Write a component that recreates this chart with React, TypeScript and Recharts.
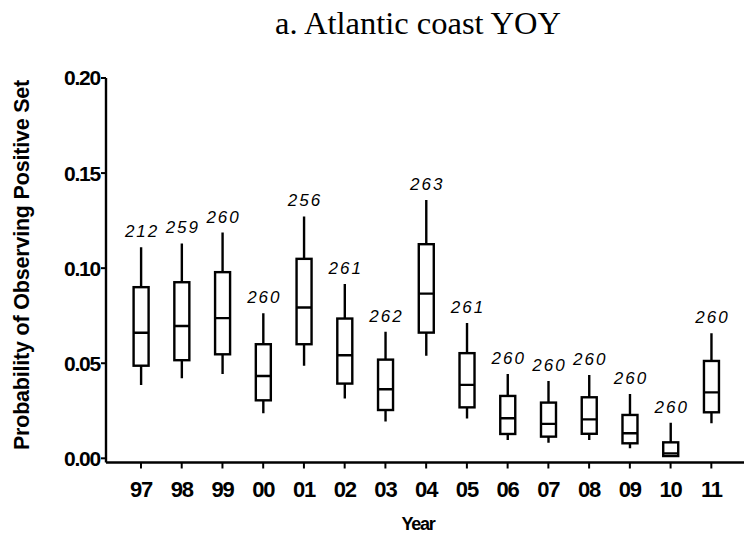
import { ComposedChart, Bar, XAxis, YAxis } from 'recharts'

const years = ['97', '98', '99', '00', '01', '02', '03', '04', '05', '06', '07', '08', '09', '10', '11']
const counts = [212, 259, 260, 260, 256, 261, 262, 263, 261, 260, 260, 260, 260, 260, 260]
const whiskerHigh = [0.111, 0.113, 0.1187, 0.0763, 0.1272, 0.0917, 0.0666, 0.1359, 0.0711, 0.0444, 0.0407, 0.0438, 0.0338, 0.0187, 0.0658]
const upperQ = [0.09, 0.0926, 0.0979, 0.06, 0.1049, 0.0735, 0.0519, 0.1126, 0.0553, 0.0328, 0.0293, 0.0321, 0.0228, 0.0084, 0.0512]
const medians = [0.066, 0.0696, 0.0737, 0.0433, 0.0793, 0.0542, 0.0363, 0.0866, 0.0386, 0.0211, 0.0181, 0.0205, 0.0132, 0.0026, 0.0347]
const lowerQ = [0.0487, 0.0516, 0.0547, 0.0305, 0.06, 0.0393, 0.0254, 0.0661, 0.0268, 0.0128, 0.0114, 0.0129, 0.0079, 0.0012, 0.0242]
const whiskerLow = [0.0386, 0.0421, 0.0444, 0.0237, 0.0487, 0.0314, 0.0193, 0.054, 0.0209, 0.0096, 0.0082, 0.0096, 0.0053, 0.0008, 0.0184]
const yTicks = [0, 0.05, 0.1, 0.15, 0.2]

const data = years.map((year, i) => ({
  year,
  n: counts[i],
  hi: whiskerHigh[i],
  q3: upperQ[i],
  med: medians[i],
  q1: lowerQ[i],
  lo: whiskerLow[i],
}))

const SANS = '"Liberation Sans", Arial, sans-serif'
const SW = 2.4

const BoxShape = (props: any) => {
  const { x, y, width, height, payload } = props
  const { hi, q3, med, q1, lo, n } = payload
  // pixels per unit, taken from the bar the library scaled for q1..q3
  const ppu = height / (q3 - q1)
  const cx = x + width / 2
  const yTop = y - (hi - q3) * ppu
  const yBot = y + height + (q1 - lo) * ppu
  const yMed = y + (q3 - med) * ppu
  return (
    <g>
      <line x1={cx} x2={cx} y1={yTop} y2={y} stroke="#000" strokeWidth={SW} />
      <line x1={cx} x2={cx} y1={y + height} y2={yBot} stroke="#000" strokeWidth={SW} />
      <rect x={x} y={y} width={width} height={height} fill="#fff" stroke="#000" strokeWidth={SW} />
      <line x1={x} x2={x + width} y1={yMed} y2={yMed} stroke="#000" strokeWidth={SW} />
      <text
        x={cx + 1}
        y={yTop - 10}
        textAnchor="middle"
        fontFamily={SANS}
        fontStyle="italic"
        fontSize={17}
        letterSpacing={2}
        fill="#000"
      >
        {n}
      </text>
    </g>
  )
}

export default function App() {
  return (
    <div style={{ position: 'absolute', left: 0, top: 0, width: 744, height: 542, background: '#fff' }}>
      <div
        style={{
          position: 'absolute',
          left: 0,
          width: 836,
          top: 5,
          textAlign: 'center',
          fontFamily: '"Liberation Serif", "Times New Roman", serif',
          fontSize: 32.5,
          lineHeight: '36px',
          color: '#000',
        }}
      >
        a. Atlantic coast YOY
      </div>
      <ComposedChart width={744} height={542} data={data} margin={{ top: 78, right: 0, bottom: 0, left: 0 }}>
        <XAxis
          dataKey="year"
          height={79.5}
          padding={{ left: 14.6, right: 12.3 }}
          axisLine={{ stroke: '#000', strokeWidth: SW }}
          tickLine={{ stroke: '#000', strokeWidth: 2 }}
          tickSize={6}
          tickMargin={13}
          tick={{ fill: '#000', fontSize: 22, fontWeight: 'bold', fontFamily: SANS, letterSpacing: -1.2 }}
          interval={0}
        />
        <YAxis
          width={106}
          domain={[-0.0022, 0.2]}
          ticks={yTicks}
          allowDataOverflow
          axisLine={{ stroke: '#000', strokeWidth: SW }}
          tickLine={{ stroke: '#000', strokeWidth: 2 }}
          tickSize={5}
          tickMargin={1}
          tickFormatter={(v: number) => v.toFixed(2)}
          tick={{ fill: '#000', fontSize: 21, fontWeight: 'bold', fontFamily: SANS, letterSpacing: -1.2 }}
        />
        <Bar
          dataKey={(d: any) => [d.q1, d.q3]}
          barSize={15}
          shape={BoxShape}
          isAnimationActive={false}
        />
      </ComposedChart>
      <div
        style={{
          position: 'absolute',
          left: 318,
          width: 200,
          top: 513,
          textAlign: 'center',
          fontFamily: SANS,
          fontWeight: 'bold',
          fontSize: 18,
          letterSpacing: -1.2,
          lineHeight: '22px',
          color: '#000',
        }}
      >
        Year
      </div>
      <div
        style={{
          position: 'absolute',
          left: 22 - 250,
          top: 265 - 12,
          width: 500,
          height: 24,
          transform: 'rotate(-90deg)',
          textAlign: 'center',
          fontFamily: SANS,
          fontWeight: 'bold',
          fontSize: 21.5,
          letterSpacing: -0.2,
          lineHeight: '24px',
          color: '#000',
        }}
      >
        Probability of Observing Positive Set
      </div>
    </div>
  )
}
